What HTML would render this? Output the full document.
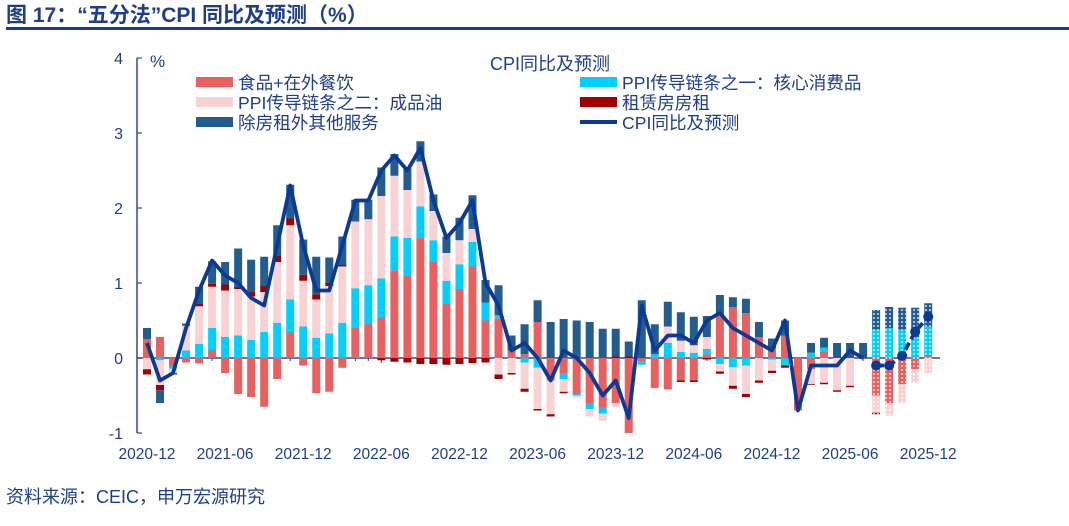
<!DOCTYPE html>
<html><head><meta charset="utf-8"><style>
body{margin:0;background:#fff;width:1069px;height:521px;overflow:hidden;font-family:"Liberation Sans","Noto Sans CJK SC",sans-serif}
</style></head><body>
<svg width="1069" height="521" xmlns="http://www.w3.org/2000/svg" font-family="Liberation Sans, Noto Sans CJK SC, sans-serif">
<defs>
<pattern id="dots" width="4" height="4" patternUnits="userSpaceOnUse"><circle cx="2" cy="2" r="0.9" fill="#fff"/></pattern>
</defs>
<text x="6" y="22" font-size="21" font-weight="bold" fill="#1f3e8a">图 17：“五分法”CPI 同比及预测（%）</text>
<rect x="6" y="27" width="1063" height="3" fill="#1f3e8a"/>
<g id="axes"></g>
<g id="bars"></g>
<g id="line"></g>
<text x="490" y="70" font-size="18" fill="#1f3e8a">CPI同比及预测</text>
<g font-size="17.6" fill="#1f3e8a">
<rect x="196" y="77" width="37" height="10" fill="#e8605f"/>
<text x="238" y="89">食品+在外餐饮</text>
<rect x="196" y="97" width="37" height="10" fill="#f9d3d3"/>
<text x="238" y="109">PPI传导链条之二：成品油</text>
<rect x="196" y="117" width="37" height="10" fill="#235d8f"/>
<text x="238" y="129">除房租外其他服务</text>
<rect x="580" y="77" width="37" height="10" fill="#00cfff"/>
<text x="622" y="89">PPI传导链条之一：核心消费品</text>
<rect x="580" y="97" width="37" height="10" fill="#a00000"/>
<text x="622" y="109">租赁房房租</text>
<rect x="580" y="120" width="37" height="4" fill="#0a3a94"/>
<text x="622" y="129">CPI同比及预测</text>
</g>
<text x="6" y="503" font-size="18" fill="#1f3e8a">资料来源：CEIC，申万宏源研究</text>
</svg>
<script>
const months=61;
const xLabels=["2020-12","2021-06","2021-12","2022-06","2022-12","2023-06","2023-12","2024-06","2024-12","2025-06","2025-12"];
const yTicks=[4,3,2,1,0,-1];
const food=[.25,.28,-.1,-.06,-.07,.1,-.2,-.48,-.52,-.65,-.28,.34,-.1,-.47,-.45,-.13,.4,.46,.54,1.17,1.1,1.61,1.28,.73,.92,1.22,.5,.53,.1,.05,.48,-.3,-.2,-.48,-.6,-.66,-.6,-1.0,-.05,-.4,-.42,-.3,-.3,.05,.57,.68,.6,.28,.13,.3,-.7,-.15,.09,0,0,0,-.5,-.6,-.35,-.15,.04];
const core=[0,-.03,-.04,.1,.19,.3,.28,.3,.24,.35,.47,.44,.42,.27,.33,.47,.53,.51,.52,.45,.5,.41,.29,.3,.33,.33,.24,.04,0,-.06,-.13,0,-.08,-.02,-.08,-.08,0,0,-.04,.05,.2,.08,.07,.07,-.08,-.12,-.1,0,-.02,-.1,0,.07,.05,0,0,0,.38,.4,.38,.28,.38];
const oil=[-.15,-.33,-.06,.33,.5,.55,.62,.62,.58,.53,.81,.99,.61,.51,.63,.75,.89,.88,1.1,.81,.64,.6,.39,.37,.32,.17,0,-.22,-.2,-.35,-.55,-.45,-.17,-.03,-.1,-.1,-.05,0,0,0,.22,.15,.1,.16,-.1,-.25,-.38,-.3,-.15,0,0,-.2,-.33,-.43,-.37,0,-.23,-.17,-.25,-.18,-.2];
const rent=[-.07,-.07,0,0,.03,.04,.08,.02,.07,.08,.08,.09,.08,.07,.04,.02,0,0,-.03,-.05,-.06,-.08,-.08,-.09,-.08,-.07,-.06,-.06,-.02,-.04,-.02,-.03,-.02,0,0,0,.02,.02,0,0,0,-.02,-.02,-.02,-.03,-.04,-.04,-.03,-.03,-.03,0,-.01,-.02,-.02,-.02,0,-.02,0,0,0,0];
const serv=[.15,-.17,-.02,.03,.23,.3,.3,.52,.42,.39,.41,.45,.47,.5,.34,.38,.29,.26,.38,.29,.29,.27,.22,.22,.3,.45,.3,.4,.2,.4,.29,.48,.52,.5,.48,.39,.37,.2,.77,.4,.33,.38,.38,.28,.27,.13,.19,.2,.13,.2,0,.13,.13,.2,.2,.2,.26,.28,.29,.39,.31];
const cpi=[.2,-.3,-.2,.4,.9,1.3,1.1,1.0,.8,.7,1.5,2.3,1.5,.9,.9,1.5,2.1,2.1,2.5,2.7,2.5,2.8,2.1,1.6,1.8,2.1,1.0,.7,.1,.2,0,-.3,.1,0,-.2,-.5,-.3,-.8,.7,.1,.3,.3,.2,.5,.6,.4,.3,.2,.1,.5,-.7,-.1,-.1,-.1,.1,0];
const forecast=[-.1,-.1,.03,.35,.55];
const forecastStart=56;
const NS="http://www.w3.org/2000/svg";
const X=i=>147+i*13.02, Y=v=>358-v*75;
function mk(t,a,p){const e=document.createElementNS(NS,t);for(const k in a)e.setAttribute(k,a[k]);p.appendChild(e);return e;}
const ax=document.getElementById('axes');
let e=mk('line',{x1:137,y1:58,x2:137,y2:433,stroke:'#2b4a9a','stroke-width':1.5},ax);

yTicks.forEach(v=>{let t=mk('line',{x1:137,y1:Y(v),x2:142,y2:Y(v),stroke:'#2b4a9a','stroke-width':1.2},ax);

let l=mk('text',{x:123,y:Y(v)+6,'font-size':16,fill:'#1f3e8a','text-anchor':'end'},ax);l.textContent=v;
});
let pc=mk('text',{x:150,y:67,'font-size':17,fill:'#1f3e8a'},ax);pc.textContent='%';

xLabels.forEach((s,k)=>{let l=mk('text',{x:X(k*6),y:459,'font-size':15.5,fill:'#1f3e8a','text-anchor':'middle'},ax);l.textContent=s;
});
const bg=document.getElementById('bars');
const series=[[food,'#e8605f'],[core,'#00cfff'],[oil,'#f9d3d3'],[rent,'#a00000'],[serv,'#235d8f']];
for(let i=0;i<months;i++){let pos=0,neg=0;
 series.forEach(([arr,c])=>{const v=arr[i];if(!v)return;let y0,y1;
  if(v>0){y0=pos;y1=pos+v;pos=y1;}else{y0=neg;y1=neg+v;neg=y1;}
  const r=mk('rect',{x:X(i)-4,y:Math.min(Y(y0),Y(y1)),width:8,height:Math.abs(Y(y1)-Y(y0)),fill:c},bg);
  
  if(i>=forecastStart){const d=mk('rect',{x:X(i)-4,y:Math.min(Y(y0),Y(y1)),width:8,height:Math.abs(Y(y1)-Y(y0)),fill:'url(#dots)'},bg);
  }
 });}
let z=mk('line',{x1:137,y1:358,x2:940,y2:358,stroke:'#2b4a9a','stroke-width':1.5},ax);

for(let i=0;i<months;i++){let t=mk('line',{x1:X(i),y1:358,x2:X(i),y2:i%6==0?363:361,stroke:'#2b4a9a','stroke-width':1},ax);
}
const lg=document.getElementById('line');
let p=mk('polyline',{points:cpi.map((v,i)=>X(i)+','+Y(v)).join(' '),fill:'none',stroke:'#0a3a94','stroke-width':3.8,'stroke-linejoin':'round'},lg);

let f=mk('polyline',{points:forecast.map((v,i)=>X(i+forecastStart)+','+Y(v)).join(' '),fill:'none',stroke:'#0a3a94','stroke-width':3.8,'stroke-dasharray':'8 4'},lg);

forecast.forEach((v,i)=>{let c=mk('circle',{cx:X(i+forecastStart),cy:Y(v),r:5,fill:'#0a3a94'},lg);
});
</script>
</body></html>
